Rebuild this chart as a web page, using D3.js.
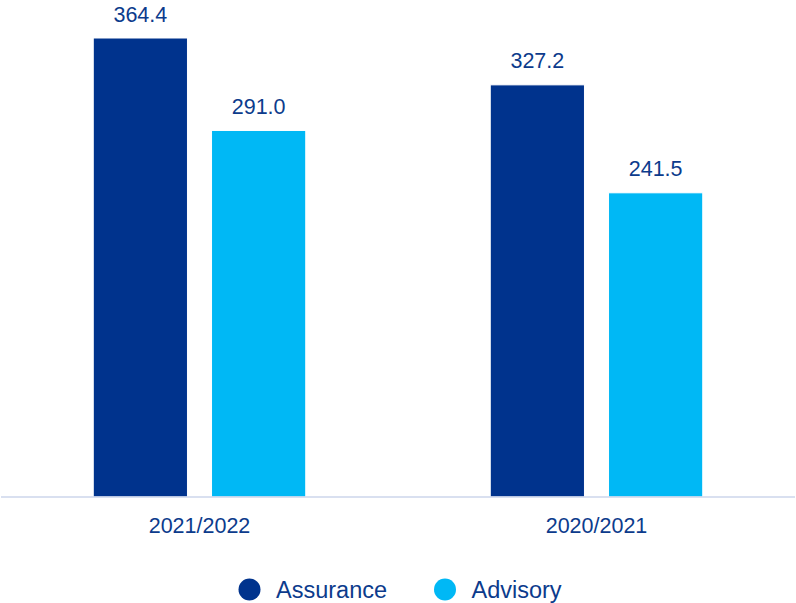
<!DOCTYPE html>
<html><head><meta charset="utf-8">
<script src="https://cdn.jsdelivr.net/npm/d3@7"></script>
<style>body{margin:0;background:#fff}svg{display:block}</style>
</head><body>
<svg id="c" width="796" height="603"></svg>
<script>
const categories = ["2021/2022", "2020/2021"];
const seriesNames = ["Assurance", "Advisory"];
const assurance = [364.4, 327.2];
const advisory = [291.0, 241.5];
const colors = ["#00338D", "#00B8F5"];
const textColor = "#0C3B8C";

const svg = d3.select("#c");
const font = "'Liberation Sans', Arial, sans-serif";
const plot = {left: 1, right: 795, top: 38, bottom: 497};

const x0 = d3.scaleBand().domain(categories).range([plot.left, plot.right]).paddingInner(0).paddingOuter(0);
const x1 = d3.scaleBand().domain(seriesNames).range([0, x0.bandwidth()]).paddingInner(0.2034).paddingOuter(0.78);
const y = d3.scaleLinear().domain([0, 364.4]).range([plot.bottom, plot.top]);

const data = categories.map((c, i) => ({cat: c, vals: [assurance[i], advisory[i]]}));

const g = svg.selectAll("g.grp").data(data).join("g")
  .attr("transform", d => `translate(${x0(d.cat)},0)`);

g.selectAll("rect").data(d => d.vals.map((v, j) => ({v, s: seriesNames[j], j}))).join("rect")
  .attr("x", d => x1(d.s))
  .attr("y", d => y(d.v))
  .attr("width", x1.bandwidth())
  .attr("height", d => y(0) - y(d.v))
  .attr("fill", d => colors[d.j])
  .attr("stroke", "#ffffff").attr("stroke-width", 1);

g.selectAll("text.val").data(d => d.vals.map((v, j) => ({v, s: seriesNames[j]}))).join("text")
  .attr("class", "val")
  .attr("x", d => x1(d.s) + x1.bandwidth() / 2)
  .attr("y", d => y(d.v) - 16.5)
  .attr("text-anchor", "middle")
  .attr("font-family", font).attr("font-size", 21.5)
  .attr("fill", textColor)
  .text(d => d3.format(".1f")(d.v));

// axis
const axis = svg.append("g").attr("transform", `translate(0,${plot.bottom})`)
  .call(d3.axisBottom(x0).tickSize(0).tickPadding(21));
axis.select(".domain").attr("stroke", "#CCD6EB").attr("stroke-width", 1.5)
  .attr("d", `M${plot.left},0H${plot.right}`);
axis.selectAll("text").attr("font-family", font).attr("font-size", 21.5)
  .attr("fill", textColor).attr("dy", "0.71em");

// legend
const legendX = [249.5, 445];
const lg = svg.selectAll("g.leg").data(seriesNames).join("g")
  .attr("transform", (d, i) => `translate(${legendX[i]},589.5)`);
lg.append("circle").attr("r", 11).attr("fill", (d, i) => colors[i]);
lg.append("text").attr("x", 26.5).attr("y", 8.5)
  .attr("font-family", font).attr("font-size", 23.5).attr("fill", textColor)
  .text(d => d);
</script>
</body></html>
